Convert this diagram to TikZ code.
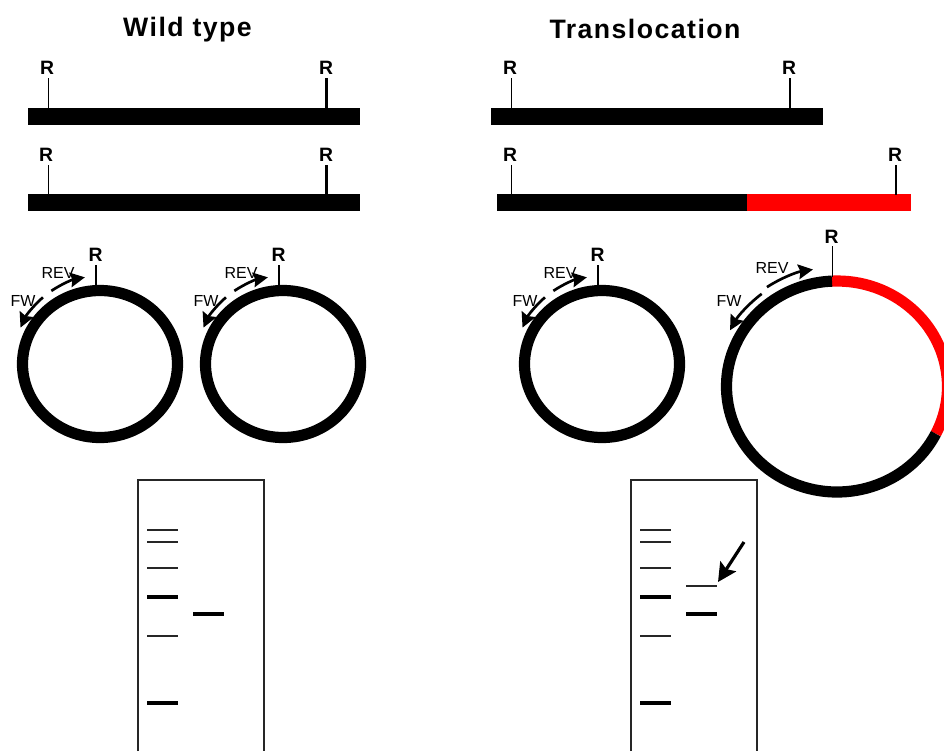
\documentclass[tikz,border=0pt]{standalone}
\usepackage{fontspec}
\setmainfont{Liberation Sans}
\newfontfamily\headfont[LetterSpace=5.5]{Liberation Sans}
\usetikzlibrary{arrows.meta}
\definecolor{segred}{RGB}{255,0,0}
\tikzset{
  x=0.75pt, y=-0.75pt,
  title/.style={font=\headfont\bfseries\fontsize{20}{24}\selectfont, inner sep=0pt, anchor=base},
  site/.style={font=\bfseries\fontsize{14.5}{16}\selectfont, inner sep=0pt, anchor=center},
  primer/.style={font=\fontsize{12}{14}\selectfont, inner sep=0pt, anchor=center},
  chrom/.style={fill=black, draw=none, inner sep=0pt, minimum height=13pt, anchor=west},
  tickthin/.style={line width=0.8pt},
  tickthick/.style={line width=1.6pt},
  ring/.style={line width=8.4pt, draw=black},
  primerarrow/.style={line width=2pt, -{Stealth[length=11pt,width=11pt,inset=1.5pt]}},
  gel/.style={line width=0.8pt, draw=black!85},
  bandthin/.style={line width=0.9pt, draw=black!85},
  bandthick/.style={line width=3pt},
  pointer/.style={line width=2.4pt, -{Stealth[length=14pt,width=14pt,inset=2.5pt]}}
}
\begin{document}
\begin{tikzpicture}
\useasboundingbox (0,0) rectangle (944,751);

% Column headings
\node[title] (titleA) at (187.5,36) {Wild type};
\node[title] (titleB) at (645,38) {Translocation};

% Wild type chromosomes
\node[chrom, minimum width=248.5pt] (barA1) at (28,116.5) {};
\node[chrom, minimum width=248.5pt] (barA2) at (28,202.5) {};
\node[site] (ra1) at (47,68) {R};
\node[site] (ra2) at (326,68) {R};
\node[site] (ra3) at (46,155) {R};
\node[site] (ra4) at (326,155) {R};
\coordinate (ca1) at (48.5,108);
\coordinate (ca2) at (326.5,108);
\coordinate (ca3) at (48.5,195);
\coordinate (ca4) at (326.5,195);
\draw[tickthin] (48.5,78) -- (ca1);
\draw[tickthick] (326.5,78) -- (ca2);
\draw[tickthin] (48.5,165) -- (ca3);
\draw[tickthick] (326.5,165) -- (ca4);

% Translocation chromosomes
\node[chrom, minimum width=249pt] (barB1) at (491,116.5) {};
\node[chrom, minimum width=187.5pt] (barB2) at (497,202.5) {};
\node[chrom, fill=segred, minimum width=123pt] (barB3) at (747,202.5) {};
\node[site] (rb1) at (510,68) {R};
\node[site] (rb2) at (789,68) {R};
\node[site] (rb3) at (510,155) {R};
\node[site] (rb4) at (895,155) {R};
\coordinate (cb1) at (511.5,108);
\coordinate (cb2) at (790,108);
\coordinate (cb3) at (511.5,195);
\coordinate (cb4) at (896,195);
\draw[tickthin] (511.5,78) -- (cb1);
\draw[tickthick] (790,78) -- (cb2);
\draw[tickthin] (511.5,165) -- (cb3);
\draw[tickthick] (896,165) -- (cb4);

% Small circular molecules
\foreach \cx/\id in {100/c, 283/d, 602/e} {
  \draw[ring] (\cx,364) ellipse[x radius=77.5, y radius=73.5];
  \draw[tickthick] (\cx-4,265) -- (\cx-4,287);
  \node[site] (r\id) at (\cx-4.5,255) {R};
  \node[primer] (rev\id) at (\cx-42,273) {REV};
  \node[primer] (fw\id) at (\cx-77,301) {FW};
  \draw[primerarrow] ({\cx+87*cos(124)},{363-87*sin(124)}) arc[start angle=-124, end angle=-100, radius=87];
  \draw[primerarrow] ({\cx+87*cos(131)},{363-87*sin(131)}) arc[start angle=-131, end angle=-156, radius=87];
}

% Large circular molecule with the translocated segment
\draw[ring, draw=segred] ({837+110.5*cos(-92.6)},{386.5+105.5*sin(-92.6)}) arc[start angle=-92.6, end angle=26.6, x radius=110.5, y radius=105.5];
\draw[ring] ({837+110.5*cos(26.6)},{386.5+105.5*sin(26.6)}) arc[start angle=26.6, end angle=267.4, x radius=110.5, y radius=105.5];
\draw[tickthin] (832.5,246) -- (832.5,277);
\node[site] (rf) at (831.5,237) {R};
\node[primer] (revf) at (772,268) {REV};
\node[primer] (fwf) at (729,301) {FW};
\draw[primerarrow] ({831.5+118.5*cos(123)},{386.5-118.5*sin(123)}) arc[start angle=-123, end angle=-99, radius=118.5];
\draw[primerarrow] ({831.5+116*cos(127)},{386.5-116*sin(127)}) arc[start angle=-127, end angle=-151, radius=116];

% Gel panels, open at the lower edge
\foreach \gx in {138, 631} {
  \draw[gel] (\gx,751) -- (\gx,480) -- (\gx+126,480) -- (\gx+126,751);
  \foreach \by in {530,542,568,636} \draw[bandthin] (\gx+9,\by) -- (\gx+39.5,\by);
  \foreach \by in {597,703} \draw[bandthick] (\gx+9,\by) -- (\gx+39.5,\by);
  \draw[bandthick] (\gx+55,614) -- (\gx+86,614);
}
\draw[bandthin] (686,586) -- (717,586);
\coordinate (pointerTail) at (744,542);
\coordinate (pointerHead) at (718,582);
\draw[pointer] (pointerTail) -- (pointerHead);
\end{tikzpicture}
\end{document}
